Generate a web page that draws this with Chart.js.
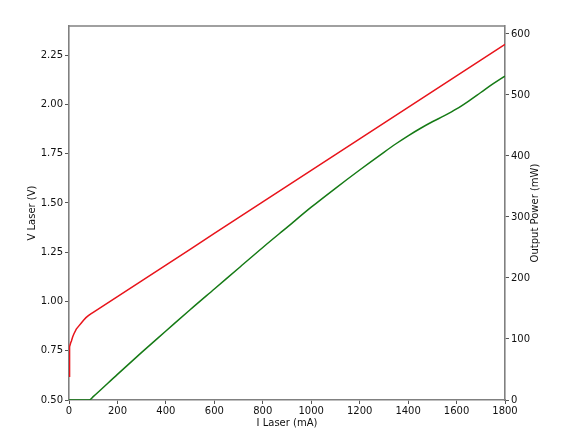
<!DOCTYPE html>
<html>
<head>
<meta charset="utf-8">
<script src="https://cdn.jsdelivr.net/npm/chart.js@4"></script>
<style>
  body { margin: 0; background: #fff; }
</style>
</head>
<body>
<canvas id="chart" width="569" height="441"></canvas>
<script>

// voltage curve (left axis)
var current_v = [0, 1, 2, 4, 7, 10, 15, 20, 30, 40, 50, 60, 70, 80, 90, 100,
    200, 300, 400, 500, 600, 700, 800, 900, 1000, 1100, 1200, 1300, 1400, 1500, 1600, 1700, 1800];
var voltage = [0.62, 0.70, 0.74, 0.77, 0.79, 0.80, 0.82, 0.835, 0.86, 0.875, 0.89, 0.905, 0.918, 0.928, 0.937, 0.945,
    1.025, 1.105, 1.185, 1.265, 1.345, 1.425, 1.505, 1.585, 1.665, 1.745, 1.825, 1.905, 1.985, 2.065, 2.145, 2.225, 2.305];

// output power (right axis)
var current_p = [0, 84, 100, 200, 300, 400, 500, 600, 700, 800, 900, 1000, 1100, 1200, 1300, 1350, 1400, 1450, 1500, 1550, 1600, 1650, 1700, 1750, 1800];
var power = [0, 0, 5.5, 42, 78, 113, 148, 182, 216, 250, 283, 316, 347, 377, 406, 420, 433, 445, 456, 466, 477, 490, 504, 518, 531];

function to_points(xs, ys) {
    var pts = [];
    for (var i = 0; i < xs.length; i++) pts.push({ x: xs[i], y: ys[i] });
    return pts;
}

var FONT = { family: "DejaVu Sans", size: 10 };

// top spine + right axis title (matplotlib reads it bottom to top)
var frame_plugin = {
    id: "frame",
    afterDraw: function(chart) {
        var a = chart.chartArea;
        var ctx = chart.ctx;
        ctx.save();
        ctx.strokeStyle = "#808080";
        ctx.lineWidth = 1.6;
        ctx.beginPath();
        ctx.moveTo(a.left, a.top);
        ctx.lineTo(a.right, a.top);
        ctx.stroke();

        ctx.translate(535, (a.top + a.bottom) / 2);
        ctx.rotate(-Math.PI / 2);
        ctx.fillStyle = "#111";
        ctx.font = "10px 'DejaVu Sans'";
        ctx.textAlign = "center";
        ctx.textBaseline = "middle";
        ctx.fillText("Output Power (mW)", 0, 0);
        ctx.restore();
    }
};

new Chart(document.getElementById("chart"), {
    type: "line",
    data: {
        datasets: [
            {
                label: "V Laser",
                data: to_points(current_v, voltage),
                borderColor: "#e8141b",
                borderWidth: 1.5,
                pointRadius: 0,
                yAxisID: "yV"
            },
            {
                label: "Output Power",
                data: to_points(current_p, power),
                borderColor: "#157a15",
                borderWidth: 1.5,
                pointRadius: 0,
                cubicInterpolationMode: "monotone",
                yAxisID: "yP"
            }
        ]
    },
    options: {
        responsive: false,
        animation: false,
        layout: { padding: { top: 26, left: 0, right: 0, bottom: 0 } },
        plugins: {
            legend: { display: false },
            tooltip: { enabled: false }
        },
        scales: {
            x: {
                type: "linear",
                min: 0,
                max: 1800,
                afterFit: function(s) { s.height = 41; },
                ticks: {
                    stepSize: 200, font: FONT, color: "#111", padding: 1, maxRotation: 0,
                    callback: function(v) { return String(v); }
                },
                grid: { drawOnChartArea: false, drawTicks: true, tickLength: 4, color: "#555" },
                border: { color: "#808080", width: 1.6 },
                title: { display: true, text: "I Laser (mA)", font: FONT, color: "#111", padding: { top: 0, bottom: 12 } }
            },
            yV: {
                type: "linear",
                position: "left",
                min: 0.5,
                max: 2.398,
                afterFit: function(s) { s.width = 69; },
                ticks: {
                    stepSize: 0.25,
                    includeBounds: false,
                    font: FONT,
                    color: "#111",
                    padding: 2,
                    callback: function(v) { return v.toFixed(2); }
                },
                grid: { drawOnChartArea: false, drawTicks: true, tickLength: 4, color: "#555" },
                border: { color: "#808080", width: 1.6 },
                title: { display: true, text: "V Laser (V)", font: FONT, color: "#111", padding: { top: 26, bottom: 0 } }
            },
            yP: {
                type: "linear",
                position: "right",
                min: 0,
                max: 613,
                afterFit: function(s) { s.width = 64; },
                ticks: { stepSize: 100, includeBounds: false, font: FONT, color: "#111", padding: 2 },
                grid: { drawOnChartArea: false, drawTicks: true, tickLength: 4, color: "#555" },
                border: { color: "#808080", width: 1.6 }
            }
        }
    },
    plugins: [frame_plugin]
});

</script>
</body>
</html>
